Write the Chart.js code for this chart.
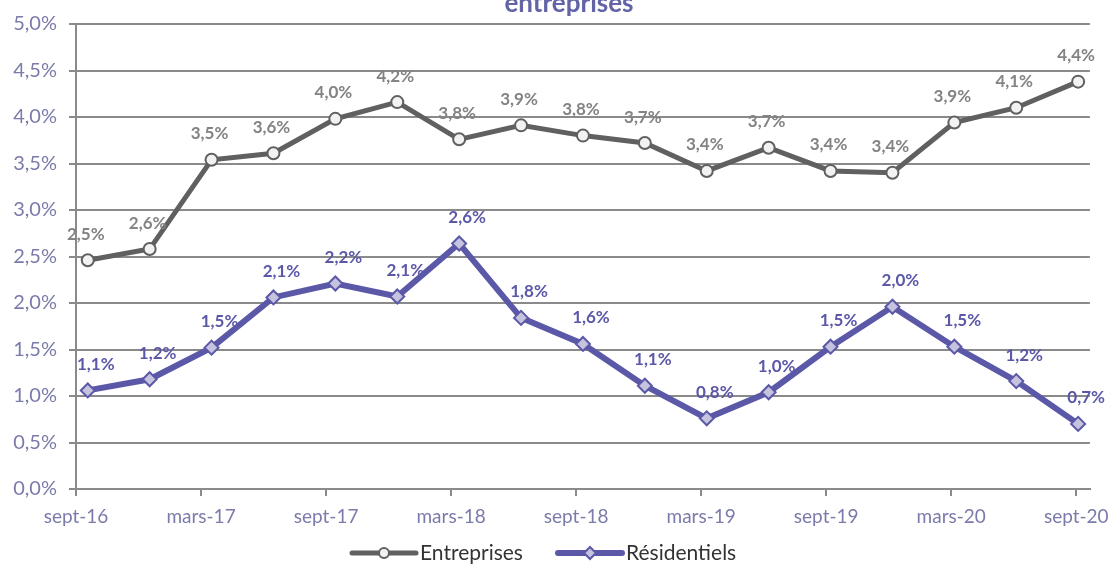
<!DOCTYPE html>
<html><head><meta charset="utf-8">
<script src="https://cdn.jsdelivr.net/npm/chart.js@4/dist/chart.umd.min.js"></script>
<style>html,body{margin:0;padding:0;background:#fff;}#wrap{width:1118px;height:565px;position:relative;}</style>
</head><body><div id="wrap"><canvas id="c" width="1118" height="565"></canvas></div>
<script>
const quarters = ['sept-16','déc-16','mars-17','juin-17','sept-17','déc-17','mars-18','juin-18','sept-18','déc-18','mars-19','juin-19','sept-19','déc-19','mars-20','juin-20','sept-20'];
const tickLabels = ['sept-16','mars-17','sept-17','mars-18','sept-18','mars-19','sept-19','mars-20','sept-20'];
const entreprises = [2.46,2.58,3.54,3.61,3.98,4.16,3.76,3.91,3.80,3.72,3.42,3.67,3.42,3.40,3.94,4.10,4.38];
const residentiels = [1.06,1.18,1.52,2.06,2.21,2.07,2.64,1.84,1.56,1.11,0.76,1.04,1.53,1.96,1.53,1.16,0.70];
const seriesNames = ['Entreprises','Résidentiels'];
const titleText = 'entreprises';

const FONT = 'Lato, "Open Sans", sans-serif';
const fmt = v => v.toFixed(1).replace('.', ',') + '%';
const COL_E = '#606060', COL_R = '#5b58a8';

const labelsPlugin = {
  id: 'labelsPlugin',
  afterDatasetsDraw(chart) {
    const ctx = chart.ctx;
    ctx.save();
    ctx.font = 'bold 17px ' + FONT;
    ctx.textAlign = 'center';
    ctx.textBaseline = 'middle';
    chart.data.datasets.forEach((ds, di) => {
      const meta = chart.getDatasetMeta(di);
      ctx.fillStyle = di === 0 ? '#838383' : COL_R;
      meta.data.forEach((pt, i) => {
        const dx = di === 0 ? -2 : 8;
        ctx.fillText(fmt(ds.data[i].y), pt.x + dx, pt.y - 26);
      });
    });
    ctx.restore();
  },
  afterDraw(chart) {
    const ctx = chart.ctx;
    ctx.save();
    ctx.font = 'bold 26px ' + FONT;
    ctx.fillStyle = '#6264a6';
    ctx.textAlign = 'center';
    ctx.textBaseline = 'alphabetic';
    ctx.fillText(titleText, 569, 12);
    ctx.font = '21px ' + FONT;
    ctx.textBaseline = 'middle';
    ctx.textAlign = 'left';
    const y = 553;
    const items = [
      {x: 352, col: COL_E, fill: '#f2f2f2', shape: 'circle', lw: 5},
      {x: 558, col: COL_R, fill: '#c5c3de', shape: 'diamond', lw: 6}
    ];
    items.forEach((it, k) => {
      ctx.strokeStyle = it.col; ctx.lineWidth = it.lw; ctx.lineCap = 'round';
      ctx.beginPath(); ctx.moveTo(it.x, y); ctx.lineTo(it.x + 64, y); ctx.stroke();
      const cx = it.x + 32;
      ctx.lineWidth = 2; ctx.fillStyle = it.fill;
      ctx.beginPath();
      if (it.shape === 'circle') { ctx.arc(cx, y, 5, 0, Math.PI * 2); }
      else { ctx.moveTo(cx, y - 6); ctx.lineTo(cx + 6, y); ctx.lineTo(cx, y + 6); ctx.lineTo(cx - 6, y); ctx.closePath(); }
      ctx.fill(); ctx.stroke();
      ctx.fillStyle = '#333';
      ctx.fillText(seriesNames[k], it.x + 68, y);
    });
    ctx.restore();
  }
};

const tickPos = tickLabels.map((_, i) => -0.19 + i * 2.02);

new Chart(document.getElementById('c'), {
  type: 'line',
  data: {
    datasets: [
      {
        label: seriesNames[0],
        data: entreprises.map((v, i) => ({x: i, y: v})),
        borderColor: COL_E, borderWidth: 5,
        pointStyle: 'circle', pointRadius: 6, pointBackgroundColor: '#f2f2f2',
        pointBorderColor: COL_E, pointBorderWidth: 2, tension: 0
      },
      {
        label: seriesNames[1],
        data: residentiels.map((v, i) => ({x: i, y: v})),
        borderColor: COL_R, borderWidth: 6,
        pointStyle: 'rectRot', pointRadius: 7, pointBackgroundColor: '#c5c3de',
        pointBorderColor: COL_R, pointBorderWidth: 2, tension: 0
      }
    ]
  },
  options: {
    responsive: false, animation: false,
    layout: {padding: {left: 0, right: 28, top: 23, bottom: 0}},
    plugins: {legend: {display: false}, title: {display: false}, tooltip: {enabled: false}},
    scales: {
      x: {
        type: 'linear', min: -0.19, max: 16.19,
        afterBuildTicks: s => { s.ticks = tickPos.map(v => ({value: v})); },
        afterFit: s => { s.height = 76; },
        grid: {drawOnChartArea: false, color: '#8a8a8a', lineWidth: 2, tickLength: 7},
        border: {color: '#8a8a8a', width: 2},
        ticks: {
          autoSkip: false, maxRotation: 0, padding: 9,
          color: '#7b7bab', font: {family: FONT, size: 19},
          callback: (v, i) => tickLabels[i]
        }
      },
      y: {
        min: 0, max: 5,
        afterFit: s => { s.width = 76; },
        grid: {color: '#8a8a8a', lineWidth: 2, tickLength: 7},
        border: {color: '#8a8a8a', width: 2},
        ticks: {
          stepSize: 0.5, padding: 12,
          color: '#7b7bab', font: {family: FONT, size: 20},
          callback: v => fmt(v)
        }
      }
    }
  },
  plugins: [labelsPlugin]
});
</script></body></html>
